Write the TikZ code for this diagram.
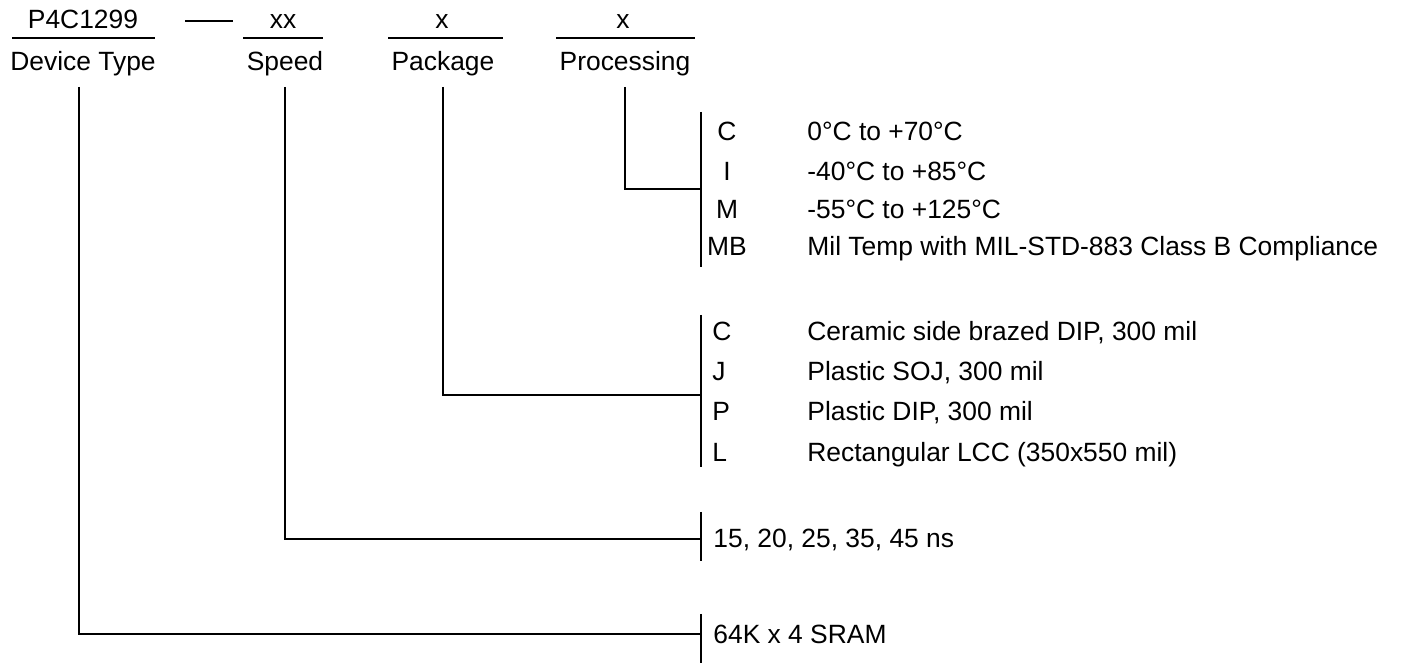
\documentclass[tikz,border=0pt]{standalone}
\usepackage{fontspec}
\setmainfont{Liberation Sans}
\usetikzlibrary{positioning}

\begin{document}
\begin{tikzpicture}[
  x=0.5pt, y=-0.5pt,
  font=\fontsize{13.2}{15}\selectfont,
  head/.style={inner sep=0pt, anchor=base},
  code/.style={inner sep=0pt, anchor=base},
  lcode/.style={inner sep=0pt, anchor=base west},
  desc/.style={inner sep=0pt, anchor=base west},
  rule/.style={line width=0.9pt},
  wire/.style={line width=1pt},
  bar/.style={line width=0.8pt}
]
\useasboundingbox (0,0) rectangle (1405,663);

% header fields
\node[head] (part) at (83,29) {P4C1299};
\node[head] (dev) at (83,71) {Device Type};
\node[head] (spdx) at (283,29) {xx};
\node[head] (spd) at (285,71) {Speed};
\node[head] (pkgx) at (442,29) {x};
\node[head] (pkg) at (443,71) {Package};
\node[head] (procx) at (623,29) {x};
\node[head] (proc) at (625,71) {Processing};
\draw[rule] (12,38) -- (155,38);
\draw[rule] (185,21) -- (233,21);
\draw[rule] (243,38) -- (323,38);
\draw[rule] (388,38) -- (503,38);
\draw[rule] (556,38) -- (695,38);

% line tops and joins
\coordinate (devtop) at (79,87);
\coordinate (spdtop) at (285,87);
\coordinate (pkgtop) at (443,87);
\coordinate (proctop) at (625,87);
\coordinate (procjoin) at (701,189);
\coordinate (pkgjoin) at (701,395);
\coordinate (spdjoin) at (701,539);
\coordinate (devjoin) at (701,634);

% bars
\draw[bar] (701,112) -- (701,267);
\draw[bar] (701,315) -- (701,467);
\draw[bar] (701,512) -- (701,561);
\draw[bar] (701,614) -- (701,663);

% processing
\node[code] (pc) at (727,141) {C};
\node[code] (pi) at (727,181) {I};
\node[code] (pm) at (727,219) {M};
\node[code] (pmb) at (727,256) {MB};
\node[desc] (pcd) at (807,141) {0°C to +70°C};
\node[desc] (pid) at (807,181) {-40°C to +85°C};
\node[desc] (pmd) at (807,219) {-55°C to +125°C};
\node[desc] (pmbd) at (807,256) {Mil Temp with MIL-STD-883 Class B Compliance};

% package
\node[lcode] (kc) at (712,341) {C};
\node[lcode] (kj) at (712,381) {J};
\node[lcode] (kp) at (712,421) {P};
\node[lcode] (kl) at (712,462) {L};
\node[desc] (kcd) at (807,341) {Ceramic side brazed DIP, 300 mil};
\node[desc] (kjd) at (807,381) {Plastic SOJ, 300 mil};
\node[desc] (kpd) at (807,421) {Plastic DIP, 300 mil};
\node[desc] (kld) at (807,462) {Rectangular LCC (350x550 mil)};

% speed and device
\node[desc] (spdd) at (713,548) {15, 20, 25, 35, 45 ns};
\node[desc] (devd) at (713,643) {64K x 4 SRAM};

\draw[wire] (proctop) |- (procjoin);
\draw[wire] (pkgtop) |- (pkgjoin);
\draw[wire] (spdtop) |- (spdjoin);
\draw[wire] (devtop) |- (devjoin);
\end{tikzpicture}
\end{document}
